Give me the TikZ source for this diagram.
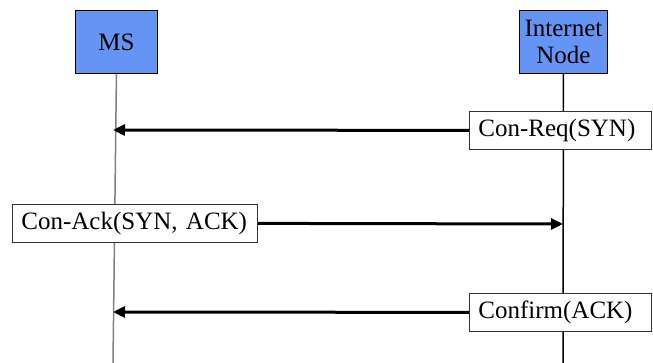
\documentclass[tikz,border=0pt]{standalone}
\usepackage{fontspec}
\setmainfont{Liberation Serif}
\usetikzlibrary{arrows.meta}
\definecolor{actorblue}{HTML}{6495F5}
\definecolor{lifegray}{HTML}{808080}
\tikzset{
  actor/.style={draw=black, line width=0.9pt, fill=actorblue, minimum width=82pt, minimum height=63pt, inner sep=0pt, font=\fontsize{25}{28}\selectfont, align=center, anchor=north west},
  msgbox/.style={draw=black!80, line width=0.8pt, fill=white, minimum height=38pt, inner xsep=9pt, inner ysep=0pt, font=\fontsize{25}{28}\selectfont, align=left, anchor=north west},
  msg/.style={line width=3pt, -{Triangle[length=12pt,width=11pt]}},
  life/.style={line width=1.5pt}
}
\begin{document}
\begin{tikzpicture}[x=1pt,y=-1pt]
\useasboundingbox (0,0) rectangle (653,363);
% lifelines
\coordinate (msbot) at (113,363);
\coordinate (inbot) at (563,363);
\node[actor] (ms) at (75,10) {MS};
\node[actor, minimum width=88pt] (in) at (519,10) {Internet\\[-1pt]Node};
\draw[life, lifegray] (ms.south) -- (msbot);
\draw[life, black] (in.south) -- (inbot);
% message boxes
\node[msgbox, text width=164pt] (req) at (469,111) {Con-Req(SYN)};
\node[msgbox, text width=227pt] (ack) at (12,204) {Con-Ack(SYN, ACK)};
\node[msgbox, text width=164pt] (conf) at (469,293) {Confirm(ACK)};
% arrow targets on lifelines
\coordinate (t1) at (113,130);
\coordinate (t2) at (563,224);
\coordinate (t3) at (113,312);
\draw[msg] (req.west) -- (t1);
\draw[msg] (ack.east) -- (t2);
\draw[msg] (conf.west) -- (t3);
\end{tikzpicture}
\end{document}
